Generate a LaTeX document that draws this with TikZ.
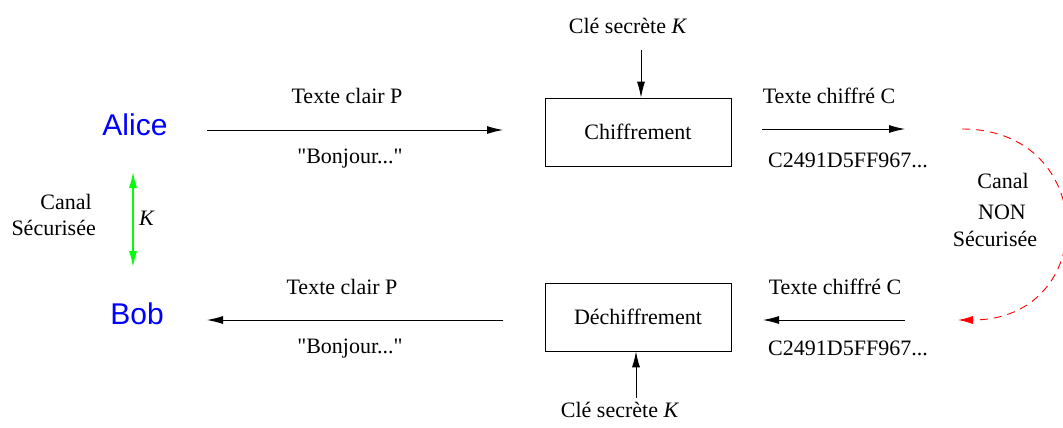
\documentclass[tikz,border=0pt]{standalone}
\usepackage{fontspec}
\setmainfont{Liberation Serif}[Ligatures=TeXOff]
\newfontfamily\personfont{Liberation Sans}
\usetikzlibrary{arrows.meta}

\definecolor{pureblue}{RGB}{0,0,255}
\definecolor{puregreen}{RGB}{0,255,0}
\definecolor{purered}{RGB}{255,0,0}

\tikzset{
  lbl/.style={anchor=base, inner sep=0pt, font=\fontsize{22}{26}\selectfont},
  person/.style={anchor=base, inner sep=0pt, text=pureblue, font=\personfont\fontsize{30}{36}\selectfont},
  procbox/.style={draw, line width=0.8pt, minimum width=186pt, minimum height=68pt,
                  inner sep=0pt, font=\fontsize{22}{26}\selectfont},
  flow/.style={line width=0.9pt, -{Latex[length=16pt,width=8pt]}},
  keyflow/.style={line width=1.4pt, puregreen, {Latex[length=16pt,width=8pt]}-{Latex[length=16pt,width=8pt]}},
  insecure/.style={line width=0.9pt, purered, dash pattern=on 8pt off 6pt,
                   -{Latex[length=15pt,width=8pt]}}
}

\begin{document}
\begin{tikzpicture}[x=1pt, y=-1pt]
  \useasboundingbox (0,0) rectangle (1063,428);

  % participants
  \node[person] (alice) at (135,135) {Alice};
  \node[person] (bob)   at (137,324) {Bob};

  % secure channel between them
  \coordinate (sk1) at (133,172);
  \coordinate (sk2) at (133,267);
  \draw[keyflow] (sk1) -- (sk2);
  \node[lbl] (kleft) at (147,225) {\textit{K}};
  \node[lbl, anchor=base east] (secA) at (92,209) {Canal};
  \node[lbl, anchor=base east] (secB) at (96,235) {Sécurisée};

  % processing boxes
  \node[procbox] (enc) at (638,132) {Chiffrement};
  \node[procbox] (dec) at (638,317) {Déchiffrement};

  % keys
  \node[lbl] (keytop) at (628,34) {Clé secrète \textit{K}};
  \node[lbl] (keybot) at (620,417) {Clé secrète \textit{K}};
  \coordinate (kt) at (641,50);
  \coordinate (kb) at (636,398);
  \draw[flow] (kt) -- (kt |- enc.north);
  \draw[flow] (kb) -- (kb |- dec.south);

  % plaintext, Alice to encryption
  \coordinate (p1s) at (207,130);
  \coordinate (p1e) at (503,130);
  \draw[flow] (p1s) -- (p1e);
  \node[lbl] (ptA) at (347,103) {Texte clair P};
  \node[lbl] (ptAv) at (350,163) {"Bonjour..."};

  % plaintext, decryption to Bob
  \coordinate (p2s) at (503,320);
  \coordinate (p2e) at (207,320);
  \draw[flow] (p2s) -- (p2e);
  \node[lbl] (ptB) at (342,294) {Texte clair P};
  \node[lbl] (ptBv) at (350,353) {"Bonjour..."};

  % ciphertext out of encryption
  \coordinate (c1s) at (762,129);
  \coordinate (c1e) at (905,129);
  \draw[flow] (c1s) -- (c1e);
  \node[lbl] (ctA) at (829,103) {Texte chiffré C};
  \node[lbl] (ctAv) at (848,167) {C2491D5FF967...};

  % ciphertext into decryption
  \coordinate (c2s) at (905,320);
  \coordinate (c2e) at (763,320);
  \draw[flow] (c2s) -- (c2e);
  \node[lbl] (ctB) at (835,294) {Texte chiffré C};
  \node[lbl] (ctBv) at (848,355) {C2491D5FF967...};

  % insecure channel
  \coordinate (r1) at (962,129);
  \coordinate (r2) at (958,320);
  \draw[insecure] (r1) .. controls (1100,129) and (1100,320) .. (r2);
  \node[lbl] (insA) at (1003,188) {Canal};
  \node[lbl] (insB) at (1002,219) {NON};
  \node[lbl] (insC) at (995,246) {Sécurisée};
\end{tikzpicture}
\end{document}
